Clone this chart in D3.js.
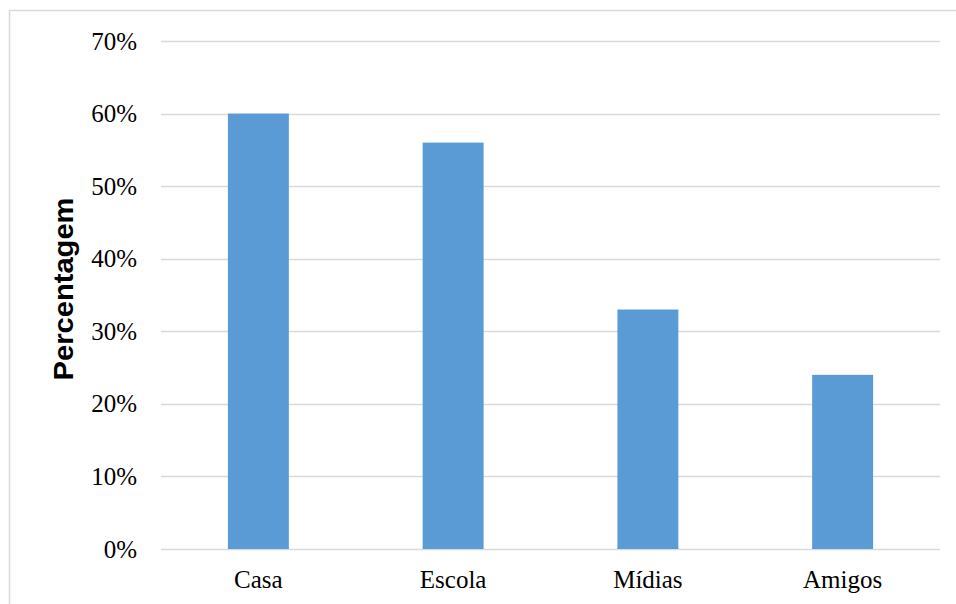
<!DOCTYPE html>
<html>
<head>
<meta charset="utf-8">
<script src="https://cdn.jsdelivr.net/npm/d3@7"></script>
<style>
  body { margin: 0; background: #fff; }
</style>
</head>
<body>
<div id="chart"></div>
<script>
// data
const categories = ["Casa", "Escola", "Mídias", "Amigos"];
const values = [0.60, 0.56, 0.33, 0.24];
const yTicks = [0, 0.1, 0.2, 0.3, 0.4, 0.5, 0.6, 0.7];

const W = 956, H = 604;
const margin = { top: 41, right: 16, bottom: 55, left: 161 };
const width = W - margin.left - margin.right;
const height = H - margin.top - margin.bottom;

const svg = d3.select("#chart").append("svg")
    .attr("width", W)
    .attr("height", H);

// outer frame
svg.append("rect")
    .attr("x", 9.5).attr("y", 10.5)
    .attr("width", W).attr("height", H)
    .attr("fill", "none")
    .attr("stroke", "#d9d9d9")
    .attr("stroke-width", 1.5);

const g = svg.append("g")
    .attr("transform", `translate(${margin.left},${margin.top})`);

const x = d3.scaleBand()
    .domain(categories)
    .range([0, width])
    .paddingInner(0.687)
    .paddingOuter(0.3435);

const y = d3.scaleLinear()
    .domain([0, 0.7])
    .range([height, 0]);

// gridlines
g.append("g")
    .selectAll("line")
    .data(yTicks)
    .join("line")
    .attr("x1", 0)
    .attr("x2", width)
    .attr("y1", d => Math.round(y(d)) + 0.5)
    .attr("y2", d => Math.round(y(d)) + 0.5)
    .attr("stroke", "#d9d9d9")
    .attr("stroke-width", 1.5);

// bars
g.append("g")
    .selectAll("rect")
    .data(values)
    .join("rect")
    .attr("x", (d, i) => x(categories[i]))
    .attr("y", d => y(d))
    .attr("width", x.bandwidth())
    .attr("height", d => height - y(d))
    .attr("fill", "#5b9bd5");

// y axis labels
const yAxis = g.append("g")
    .call(d3.axisLeft(y).tickValues(yTicks).tickFormat(d3.format(".0%")).tickSize(0).tickPadding(24));
yAxis.select(".domain").remove();
yAxis.selectAll("text")
    .attr("font-family", "'Liberation Serif', 'Times New Roman', serif")
    .attr("font-size", 25)
    .attr("fill", "#000");

// x axis labels
const xAxis = g.append("g")
    .attr("transform", `translate(0,${height})`)
    .call(d3.axisBottom(x).tickSize(0).tickPadding(21));
xAxis.select(".domain").remove();
xAxis.selectAll("text")
    .attr("font-family", "'Liberation Serif', 'Times New Roman', serif")
    .attr("font-size", 25)
    .attr("fill", "#000");

// y axis title
svg.append("text")
    .attr("transform", `translate(73,${margin.top + height / 2 - 6}) rotate(-90)`)
    .attr("text-anchor", "middle")
    .attr("font-family", "'Liberation Sans Narrow', 'Liberation Sans', sans-serif")
    .attr("font-weight", "bold")
    .attr("font-size", 28)
    .attr("textLength", 183)
    .attr("lengthAdjust", "spacingAndGlyphs")
    .attr("fill", "#000")
    .text("Percentagem");
</script>
</body>
</html>
